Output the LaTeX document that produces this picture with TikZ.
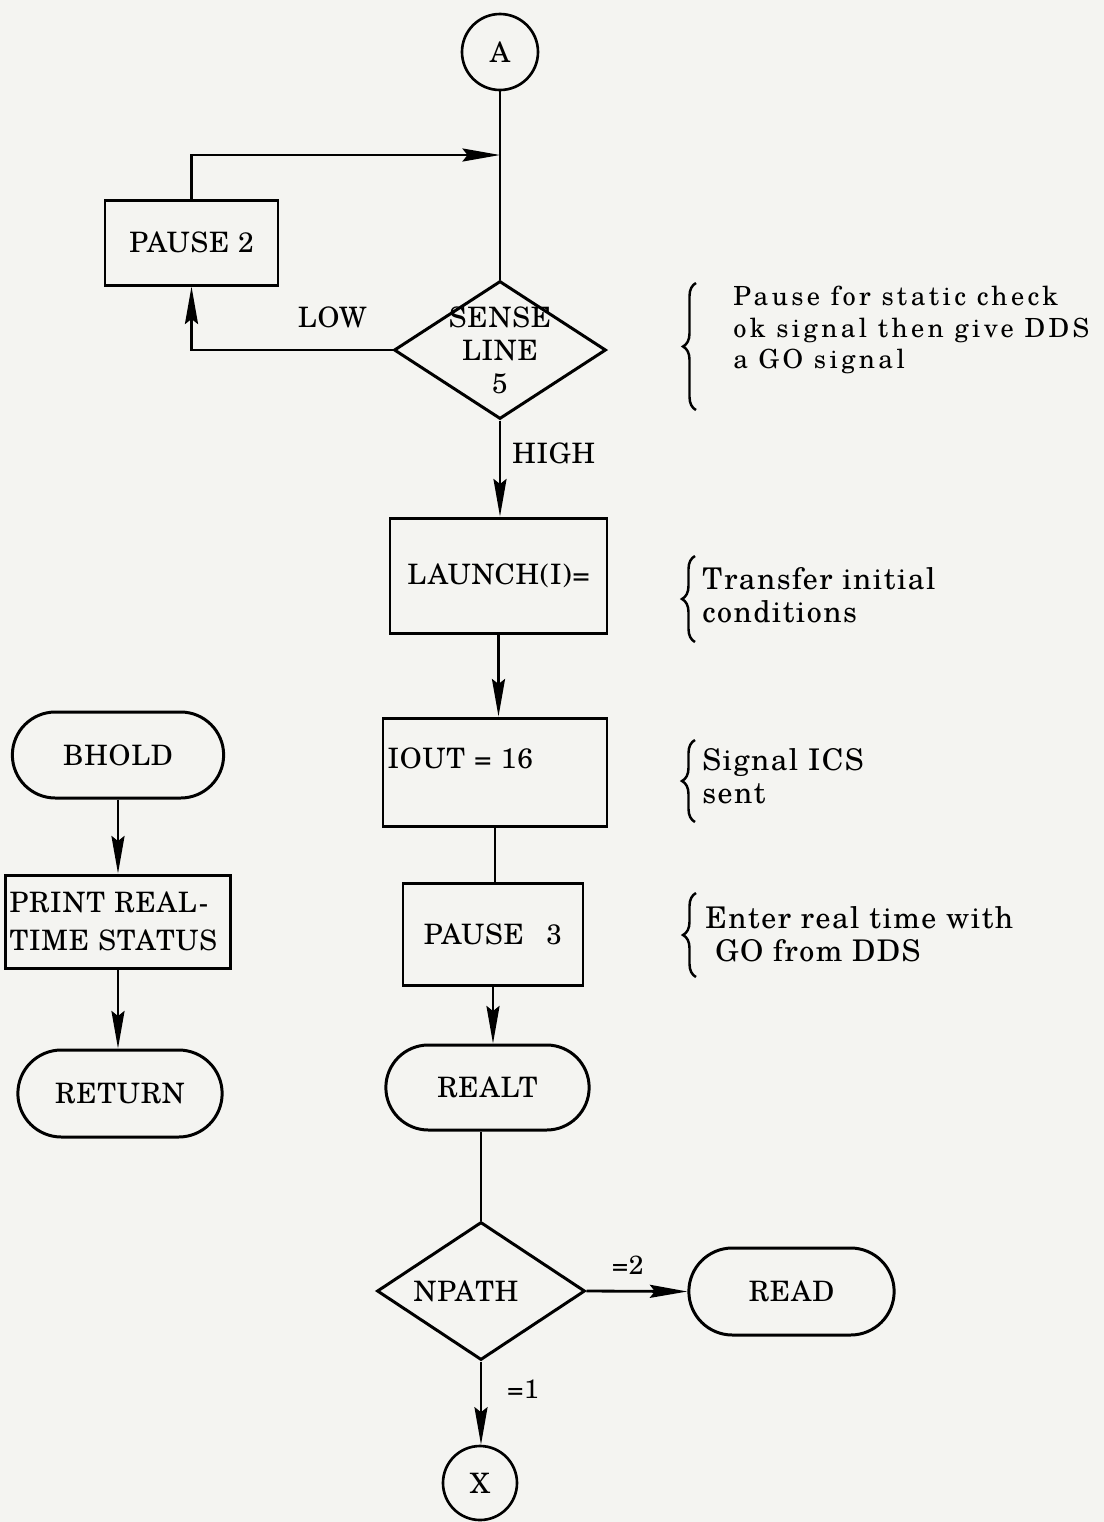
\documentclass[tikz,border=0pt]{standalone}
\usepackage{fontspec}
\usetikzlibrary{shapes.geometric,shapes.misc,arrows.meta,decorations.pathreplacing}

\definecolor{paper}{RGB}{244,244,241}
\IfFontExistsTF{texgyreschola-regular.otf}{%
  \newfontfamily\chartfam[LetterSpace=3]{texgyreschola-regular.otf}
  \newfontfamily\notefam[LetterSpace=13]{texgyreschola-regular.otf}
  \newfontfamily\notewidefam[LetterSpace=5]{texgyreschola-regular.otf}
  \newcommand\chartfont{\chartfam\fontsize{16}{18.7}\selectfont}
  \newcommand\smallfont{\chartfam\fontsize{15}{16}\selectfont}
  \newcommand\notefont{\notefam\fontsize{15}{18}\selectfont}
  \newcommand\notewidefont{\notewidefam\fontsize{17}{19}\selectfont}
}{%
  \newfontfamily\chartfam[LetterSpace=3]{lmroman10-regular.otf}
  \newfontfamily\notefam[LetterSpace=17]{lmroman10-regular.otf}
  \newfontfamily\notewidefam[LetterSpace=8]{lmroman10-regular.otf}
  \newcommand\chartfont{\chartfam\fontsize{17}{18.7}\selectfont}
  \newcommand\smallfont{\chartfam\fontsize{15}{16}\selectfont}
  \newcommand\notefont{\notefam\fontsize{15}{18}\selectfont}
  \newcommand\notewidefont{\notewidefam\fontsize{18}{19}\selectfont}
}

\begin{document}
\begin{tikzpicture}[proc/.style={draw,line width=1.7pt,rectangle,font=\chartfont,inner sep=0.08cm},
  term/.style={draw,line width=1.7pt,rounded rectangle,font=\chartfont},
  decide/.style={draw,line width=1.7pt,diamond,font=\chartfont,inner sep=0pt},
  conn/.style={draw,line width=1.5pt,circle,font=\chartfont,inner sep=0pt},
  flow/.style={line width=1.6pt,-{Stealth[length=0.75cm,width=0.26cm,inset=0.1cm]}},
  link/.style={line width=1.6pt},
  lbl/.style={font=\chartfont,inner sep=0pt},
  note/.style={font=\notewidefont,align=left,anchor=west,inner sep=0pt},
  curly/.style={line width=1.4pt,decorate,decoration={brace,amplitude=0.26cm}}]
  \fill[paper] (0,0) rectangle (22.08,-30.44);
  \useasboundingbox (0,0) rectangle (22.08,-30.44);

  \node[conn,minimum size=1.52cm] (A) at (10,-1.04) {A};
  \node[proc,minimum width=3.46cm,minimum height=1.7cm] (pause2) at (3.83,-4.85) {PAUSE 2};
  \node[decide,minimum width=4.24cm,minimum height=2.76cm,label={[align=center,font=\chartfont]center:SENSE\\LINE\\5}] (sense) at (10,-7) {};
  \node[proc,minimum width=4.34cm,minimum height=2.3cm] (launch) at (9.97,-11.51) {LAUNCH(I)=};
  \node[proc,minimum width=4.48cm,minimum height=2.16cm,text width=4.3cm,text depth=0.55cm,align=left] (iout) at (9.9,-15.44) {IOUT = 16};
  \node[proc,minimum width=3.6cm,minimum height=2.04cm] (pause3) at (9.86,-18.68) {PAUSE\hspace{0.45cm}3};
  \node[term,minimum width=4.3cm,minimum height=1.7cm] (realt) at (9.75,-21.75) {REALT};
  \node[decide,minimum width=4.16cm,minimum height=2.76cm,label={[xshift=-0.3cm,font=\chartfont]center:NPATH}] (npath) at (9.62,-25.82) {};
  \node[term,minimum width=4.34cm,minimum height=1.74cm] (read) at (15.83,-25.83) {READ\hspace{0.7cm}};
  \node[conn,minimum size=1.48cm] (X) at (9.6,-29.66) {X};

  \node[term,minimum width=4.46cm,minimum height=1.72cm] (bhold) at (2.36,-15.1) {BHOLD\hspace{0.4cm}};
  \node[proc,minimum width=4.46cm,minimum height=1.86cm,text width=4.34cm,align=left] (print) at (2.36,-18.43) {PRINT REAL-\\[3pt]TIME STATUS};
  \node[term,minimum width=4.32cm,minimum height=1.74cm] (return) at (2.4,-21.87) {RETURN};

  \coordinate (join) at (10,-3.1);
  \draw[link] (A) -- (sense);
  \draw[flow] (pause2.north) |- (join);
  \draw[flow] (sense.west) -| node[lbl,pos=0.15,above=0.42cm] {LOW} (pause2.south);
  \draw[flow] (sense.south) -- node[lbl,pos=0.34,right=0.22cm] {HIGH} (sense.south |- launch.north);
  \draw[flow] (launch.south) -- (launch.south |- iout.north);
  \draw[link] (iout.south) -- (iout.south |- pause3.north);
  \draw[flow] (pause3.south) -- (pause3.south |- realt.north);
  \draw[link] (npath.north |- realt.south) -- (npath.north);
  \draw[flow] (npath.east) -- node[lbl,font=\smallfont,pos=0.41,above=0.3cm] {=2} (read.west);
  \draw[flow] (npath.south) -- node[lbl,font=\smallfont,pos=0.33,right=0.5cm] {=1} (npath.south |- X.north);
  \draw[flow] (bhold.south) -- (bhold.south |- print.north);
  \draw[flow] (print.south) -- (print.south |- return.north);

  \draw[curly] (13.92,-8.2) -- (13.92,-5.66);
  \node[note,font=\notefont] (pausenote) at (14.66,-6.6) {Pause for static check\\ok signal then give DDS\\a GO signal};
  \draw[curly] (13.9,-12.84) -- (13.9,-11.12);
  \node[note] (launchnote) at (14.04,-11.9) {Transfer initial\\conditions};
  \draw[curly] (13.9,-16.44) -- (13.9,-14.8);
  \node[note] (ioutnote) at (14.04,-15.52) {Signal ICS\\sent};
  \draw[curly] (13.92,-19.54) -- (13.92,-17.86);
  \node[note] (pausethreenote) at (14.1,-18.68) {Enter real time with\\\hspace{0.2cm}GO from DDS};
\end{tikzpicture}
\end{document}
